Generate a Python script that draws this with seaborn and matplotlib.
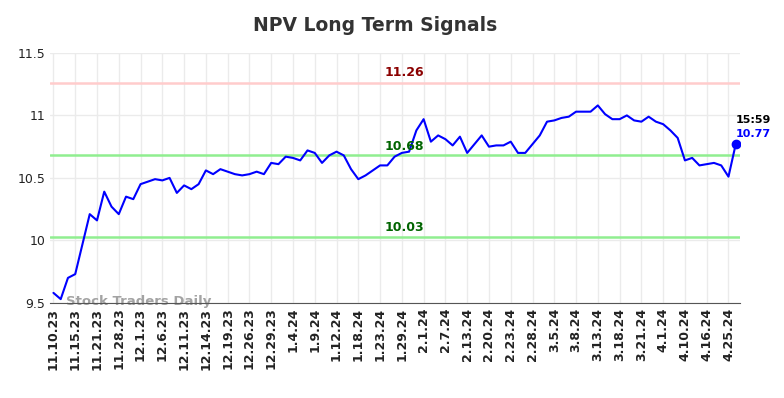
import numpy as np
import pandas as pd
import matplotlib
matplotlib.use("Agg")
import matplotlib.pyplot as plt
import seaborn as sns

# --- Dados ---
precos = [
    9.58, 9.53, 9.70, 9.73, 9.97, 10.21, 10.16, 10.39, 10.27, 10.21,
    10.35, 10.33, 10.45, 10.47, 10.49, 10.48, 10.50, 10.38, 10.44, 10.41,
    10.45, 10.56, 10.53, 10.57, 10.55, 10.53, 10.52, 10.53, 10.55, 10.53,
    10.62, 10.61, 10.67, 10.66, 10.64, 10.72, 10.70, 10.62, 10.68, 10.71,
    10.68, 10.57, 10.49, 10.52, 10.56, 10.60, 10.60, 10.67, 10.70, 10.71,
    10.88, 10.97, 10.79, 10.84, 10.81, 10.76, 10.83, 10.70, 10.77, 10.84,
    10.75, 10.76, 10.76, 10.79, 10.70, 10.70, 10.77, 10.84, 10.95, 10.96,
    10.98, 10.99, 11.03, 11.03, 11.03, 11.08, 11.01, 10.97, 10.97, 11.00,
    10.96, 10.95, 10.99, 10.95, 10.93, 10.88, 10.82, 10.64, 10.66, 10.60,
    10.61, 10.62, 10.60, 10.51, 10.77,
]
rotulos_x = [
    "11.10.23", "11.15.23", "11.21.23", "11.28.23", "12.1.23", "12.6.23",
    "12.11.23", "12.14.23", "12.19.23", "12.26.23", "12.29.23", "1.4.24",
    "1.9.24", "1.12.24", "1.18.24", "1.23.24", "1.29.24", "2.1.24",
    "2.7.24", "2.13.24", "2.20.24", "2.23.24", "2.28.24", "3.5.24",
    "3.8.24", "3.13.24", "3.18.24", "3.21.24", "4.1.24", "4.10.24",
    "4.16.24", "4.25.24",
]
resistencia = 11.26
meio = 10.68
suporte = 10.03
hora_final = "15:59"

df = pd.DataFrame({"idx": np.arange(len(precos)), "preco": precos})

# --- Figura ---
sns.set_style("white")
fig = plt.figure(figsize=(7.84, 3.98), dpi=100)
ax = fig.add_axes([0.064, 0.239, 0.88, 0.628])

ax.grid(True, color="#ebebeb", linewidth=1)
ax.set_axisbelow(True)

ax.axhline(resistencia, color="#ffcccc", linewidth=1.8, zorder=1)
ax.axhline(meio, color="#90ee90", linewidth=1.8, zorder=1)
ax.axhline(suporte, color="#90ee90", linewidth=1.8, zorder=1)

sns.lineplot(data=df, x="idx", y="preco", ax=ax, color="blue",
             linewidth=1.5, zorder=3)

ult = len(precos) - 1
ax.scatter([ult], [precos[-1]], color="blue", s=36, zorder=4)

meio_x = 48.3
ax.text(meio_x, resistencia + 0.03, f"{resistencia:.2f}", color="darkred",
        fontsize=9, fontweight="bold", ha="center", va="bottom")
ax.text(meio_x, meio + 0.02, f"{meio:.2f}", color="darkgreen",
        fontsize=9, fontweight="bold", ha="center", va="bottom")
ax.text(meio_x, suporte + 0.02, f"{suporte:.2f}", color="darkgreen",
        fontsize=9, fontweight="bold", ha="center", va="bottom")

ax.text(ult, precos[-1] + 0.19, hora_final, color="black", fontsize=8,
        fontweight="bold", ha="left", va="center")
ax.text(ult, precos[-1] + 0.08, f"{precos[-1]:.2f}", color="blue",
        fontsize=8, fontweight="bold", ha="left", va="center")

ax.text(1.7, 9.51, "Stock Traders Daily", color="#999999", fontsize=9.5,
        fontweight="bold", ha="left", va="center", alpha=0.9, zorder=2)

ax.set_xlim(-0.45, 94.6)
ax.set_ylim(9.5, 11.5)
ax.set_yticks([9.5, 10, 10.5, 11, 11.5])
ax.set_yticklabels(["9.5", "10", "10.5", "11", "11.5"])
ax.set_xticks(np.arange(0, len(precos), 3))
ax.set_xticklabels(rotulos_x, rotation=90, fontweight="bold")
ax.tick_params(axis="both", length=0, labelsize=9, colors="#222222")
ax.set_xlabel("")
ax.set_ylabel("")

for lado in ["top", "right", "left"]:
    ax.spines[lado].set_visible(False)
ax.spines["bottom"].set_color("#555555")

fig.text(0.478, 0.935, "NPV Long Term Signals", fontsize=13.5,
         fontweight="bold", color="#333333", ha="center", va="center")

plt.savefig("out.png", dpi=100)
